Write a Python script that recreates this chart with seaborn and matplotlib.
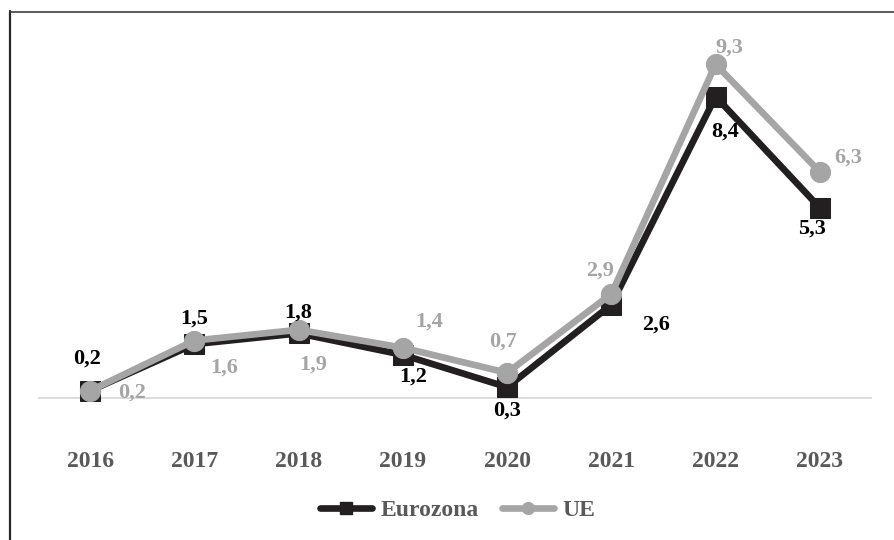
import matplotlib
matplotlib.use("Agg")
import matplotlib.pyplot as plt
import seaborn as sns
import pandas as pd
from matplotlib.lines import Line2D

years = ["2016", "2017", "2018", "2019", "2020", "2021", "2022", "2023"]
eurozona = [0.2, 1.5, 1.8, 1.2, 0.3, 2.6, 8.4, 5.3]
ue = [0.2, 1.6, 1.9, 1.4, 0.7, 2.9, 9.3, 6.3]
series_names = ["Eurozona", "UE"]

BLACK = "#231F20"
GREY = "#A5A5A5"
TICK = "#595959"

sns.set_theme(style="white")
plt.rcParams["font.family"] = ["Liberation Serif", "DejaVu Serif"]
plt.rcParams["font.weight"] = "bold"

df = pd.DataFrame({
    "year": years * 2,
    "value": eurozona + ue,
    "serie": ["Eurozona"] * len(years) + ["UE"] * len(years),
})

fig = plt.figure(figsize=(8.94, 5.40), dpi=100)
ax = fig.add_axes([38 / 894, 1 - 441 / 540, (872 - 38) / 894, (441 - 32) / 540])

sns.lineplot(
    data=df, x="year", y="value", hue="serie", style="serie",
    hue_order=series_names, style_order=series_names,
    palette={"Eurozona": BLACK, "UE": GREY},
    markers={"Eurozona": "s", "UE": "o"}, dashes=False,
    linewidth=4.8, ax=ax, legend=False, sort=False,
)
for line, ms in zip(ax.lines, [15, 14.5]):
    line.set_markersize(ms)
    line.set_markeredgecolor(line.get_color())
    line.set_solid_capstyle("round")
    line.set_solid_joinstyle("round")

ax.set_xlim(-0.5, len(years) - 0.5)
ax.set_ylim(-1.2, 10.2)
ax.axhline(0, color="#D9D9D9", linewidth=1.3, zorder=0)

for s in ax.spines.values():
    s.set_visible(False)
ax.set_yticks([])
ax.set_xlabel("")
ax.set_ylabel("")
ax.set_xticks(range(len(years)))
ax.set_xticklabels(years, fontsize=17, fontweight="bold", color=TICK)
ax.tick_params(axis="x", length=0, pad=7)

def fmt(v):
    return f"{v:.1f}".replace(".", ",")

# label offsets in pixels (dx, dy with dy positive = up)
euro_off = [(-3, 32), (0, 26), (0, 21), (10, -22), (0, -23), (45, -20), (9, -35), (-8, -21)]
ue_off = [(42, -2), (30, -27), (15, -35), (26, 26), (-4, 31), (-11, 23), (14, 17), (28, 14)]

for i, (v, (dx, dy)) in enumerate(zip(eurozona, euro_off)):
    ax.annotate(fmt(v), (i, v), xytext=(dx * 0.72, dy * 0.72), textcoords="offset points",
                ha="center", va="center", fontsize=16, fontweight="bold", color="black")
for i, (v, (dx, dy)) in enumerate(zip(ue, ue_off)):
    ax.annotate(fmt(v), (i, v), xytext=(dx * 0.72, dy * 0.72), textcoords="offset points",
                ha="center", va="center", fontsize=16, fontweight="bold", color=GREY)

handles = [
    Line2D([], [], color=BLACK, marker="s", markersize=9, linewidth=4.8, solid_capstyle="round"),
    Line2D([], [], color=GREY, marker="o", markersize=8.5, linewidth=4.8, solid_capstyle="round"),
]
leg = fig.legend(handles, series_names, loc="center", bbox_to_anchor=(458 / 894, 1 - 510 / 540),
                 ncol=2, frameon=False, handlelength=2.2, handletextpad=0.35, columnspacing=1.0,
                 prop={"family": "Liberation Serif", "weight": "bold", "size": 17})
for t in leg.get_texts():
    t.set_color(TICK)

# frame lines along the left and top edges
fig.add_artist(Line2D([9.5 / 894, 9.5 / 894], [0, 1 - 11 / 540], color="#262626", linewidth=1.6,
                      transform=fig.transFigure))
fig.add_artist(Line2D([9.5 / 894, 1], [1 - 11.5 / 540, 1 - 11.5 / 540], color="#404040", linewidth=1.2,
                      transform=fig.transFigure))

fig.savefig("out.png", dpi=100)
